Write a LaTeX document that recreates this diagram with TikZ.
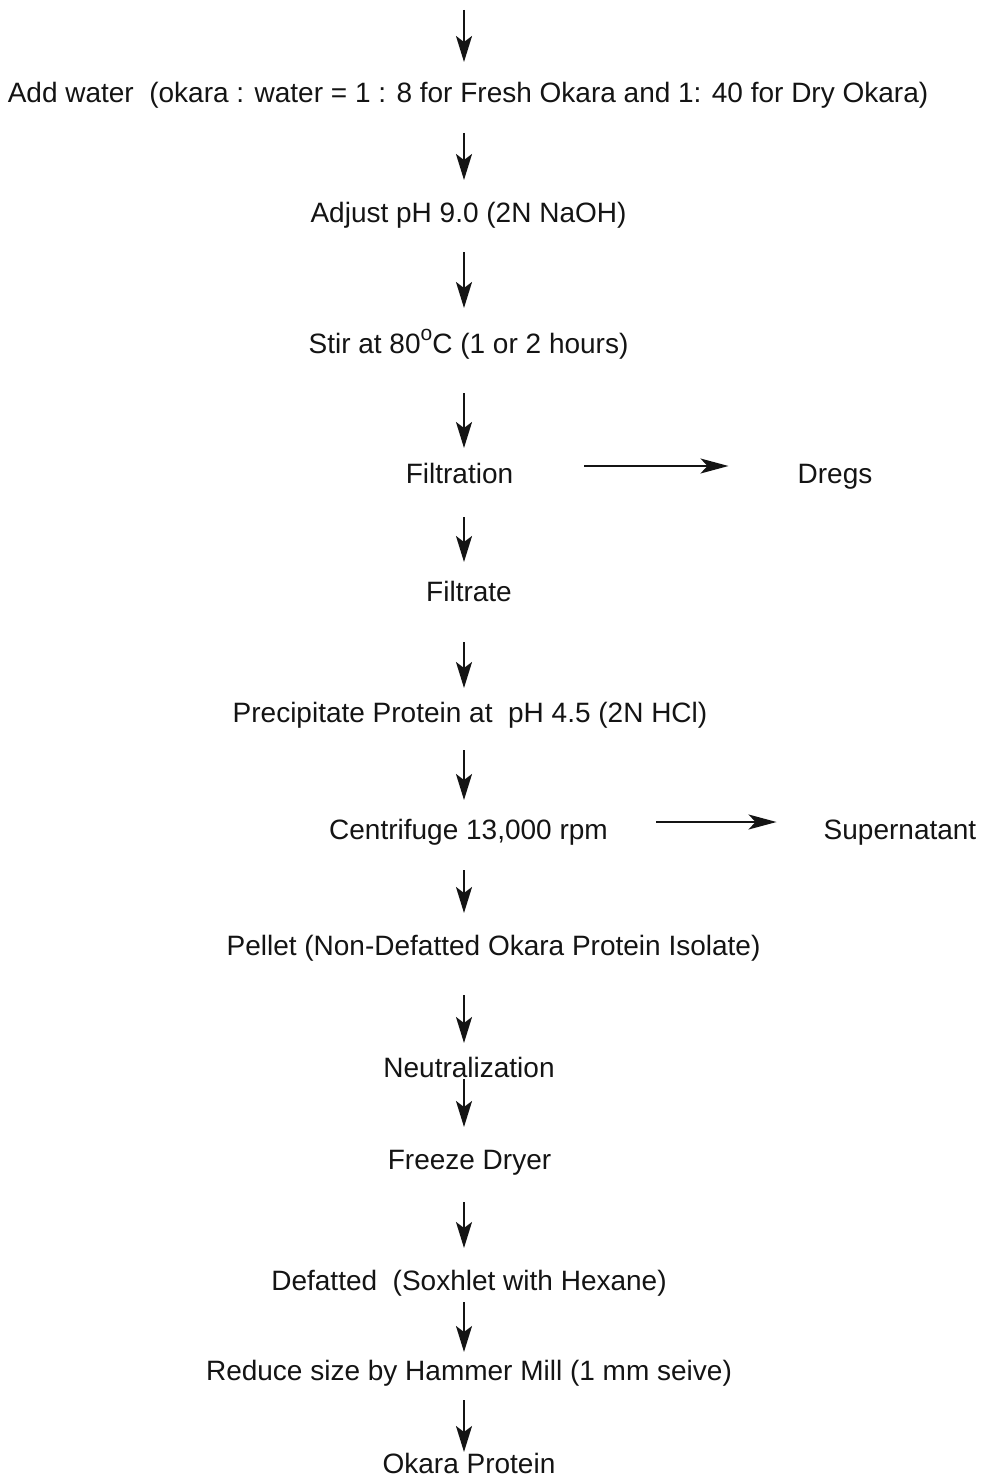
\documentclass[tikz,border=0pt]{standalone}
\usepackage{fontspec}
\setmainfont{Liberation Sans}
\usetikzlibrary{arrows.meta,calc}
\definecolor{ink}{HTML}{141414}
\tikzset{
  lbl/.style={anchor=base, inner sep=0pt, text=ink, font=\fontsize{28}{33}\selectfont},
  varr/.style={draw=ink, line width=2.1pt, -{Stealth[length=26pt,width=16pt,inset=6pt]}},
  harr/.style={draw=ink, line width=1.7pt, -{Stealth[length=28pt,width=15pt,inset=7pt]}}
}
\newcommand{\degsym}{\raisebox{0.45em}{\fontsize{21}{21}\selectfont o}}
\begin{document}
\begin{tikzpicture}[x=1pt,y=-1pt]
\useasboundingbox[fill=white] (0,0) rectangle (981,1477);
\coordinate (sp) at (464,0);
\coordinate (start) at (464,10);
\node[lbl] (add) at (468,103) {Add water\ \ (okara : water = 1 : 8 for Fresh Okara and 1: 40 for Dry Okara)};
\node[lbl] (adj) at (468.5,222) {Adjust pH 9.0 (2N NaOH)};
\node[lbl] (stir) at (468.5,353) {Stir at 80\degsym C (1 or 2 hours)};
\node[lbl] (filt) at (459.5,483) {Filtration};
\node[lbl] (dregs) at (835,483) {Dregs};
\node[lbl] (filtrate) at (469,601) {Filtrate};
\node[lbl] (precip) at (470,722) {Precipitate Protein at\ \ pH 4.5 (2N HCl)};
\node[lbl] (centri) at (468.5,839) {Centrifuge 13,000 rpm};
\node[lbl] (super) at (900,839) {Supernatant};
\node[lbl] (pellet) at (493.5,955) {Pellet (Non-Defatted Okara Protein Isolate)};
\node[lbl] (neutral) at (469,1077) {Neutralization};
\node[lbl] (freeze) at (469.5,1169) {Freeze Dryer};
\node[lbl] (defat) at (469,1290) {Defatted\ \ (Soxhlet with Hexane)};
\node[lbl] (reduce) at (469,1380) {Reduce size by Hammer Mill (1 mm seive)};
\node[lbl] (okara) at (469,1473) {Okara Protein};

\draw[varr, shorten >=41pt] (start) -- (add.base -| sp);
\draw[varr, shorten <=30pt, shorten >=42pt] (add.base -| sp) -- (adj.base -| sp);
\draw[varr, shorten <=30pt, shorten >=45pt] (adj.base -| sp) -- (stir.base -| sp);
\draw[varr, shorten <=40pt, shorten >=35pt] (stir.base -| sp) -- (filt.base -| sp);
\draw[varr, shorten <=34pt, shorten >=39pt] (filt.base -| sp) -- (filtrate.base -| sp);
\draw[varr, shorten <=41pt, shorten >=34pt] (filtrate.base -| sp) -- (precip.base -| sp);
\draw[varr, shorten <=28pt, shorten >=39pt] (precip.base -| sp) -- (centri.base -| sp);
\draw[varr, shorten <=31pt, shorten >=42pt] (centri.base -| sp) -- (pellet.base -| sp);
\draw[varr, shorten <=40pt, shorten >=34pt] (pellet.base -| sp) -- (neutral.base -| sp);
\draw[varr, shorten <=2pt, shorten >=42pt] (neutral.base -| sp) -- (freeze.base -| sp);
\draw[varr, shorten <=33pt, shorten >=42pt] (freeze.base -| sp) -- (defat.base -| sp);
\draw[varr, shorten <=12pt, shorten >=28pt] (defat.base -| sp) -- (reduce.base -| sp);
\draw[varr, shorten <=20pt, shorten >=21pt] (reduce.base -| sp) -- (okara.base -| sp);

\draw[harr] ([yshift=17pt]filt.base east) ++(71,0) -- ([yshift=17pt,xshift=-69pt]dregs.base west);
\draw[harr] ([yshift=17pt]centri.base east) ++(48,0) -- ([yshift=17pt,xshift=-47pt]super.base west);
\end{tikzpicture}
\end{document}
